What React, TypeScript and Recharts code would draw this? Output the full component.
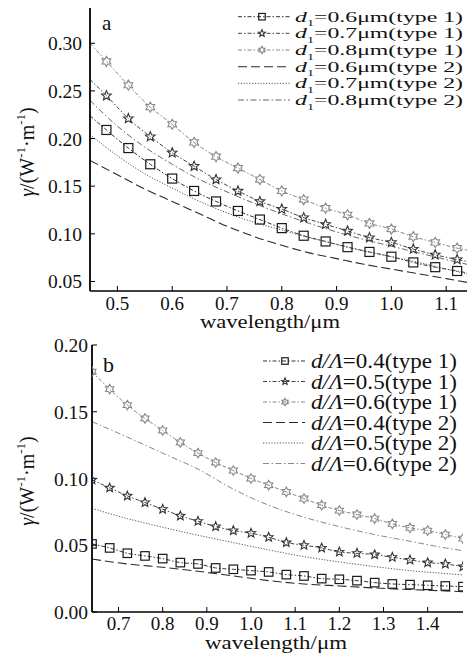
import React from 'react';
import { LineChart, Line, XAxis, YAxis } from 'recharts';

const FONT = '"Liberation Serif", "Times New Roman", serif';

// ---------- Panel a ----------
const aMarkX = [0.45, 0.48, 0.52, 0.56, 0.6, 0.64, 0.68, 0.72, 0.76, 0.8, 0.84, 0.88, 0.92, 0.96, 1.0, 1.04, 1.08, 1.12, 1.138];
const aSq = [0.224, 0.209, 0.19, 0.173, 0.158, 0.145, 0.134, 0.124, 0.115, 0.106, 0.098, 0.092, 0.086, 0.081, 0.076, 0.07, 0.065, 0.061, 0.059];
const aStar = [0.262, 0.245, 0.221, 0.202, 0.185, 0.171, 0.157, 0.145, 0.134, 0.126, 0.117, 0.11, 0.103, 0.096, 0.091, 0.084, 0.078, 0.073, 0.071];
const aHex = [0.3, 0.281, 0.256, 0.233, 0.215, 0.196, 0.181, 0.169, 0.157, 0.145, 0.136, 0.127, 0.12, 0.111, 0.105, 0.097, 0.091, 0.085, 0.083];
const aLineX = [0.45, 0.5, 0.55, 0.6, 0.65, 0.7, 0.75, 0.8, 0.85, 0.9, 0.95, 1.0, 1.05, 1.1, 1.138];
const aLongDash = [0.177, 0.162, 0.147, 0.134, 0.121, 0.108, 0.097, 0.088, 0.08, 0.074, 0.068, 0.063, 0.058, 0.053, 0.049];
const aDotted = [0.204, 0.182, 0.163, 0.148, 0.134, 0.122, 0.112, 0.104, 0.096, 0.089, 0.082, 0.076, 0.07, 0.063, 0.058];
const aDashDot = [0.24, 0.213, 0.191, 0.173, 0.157, 0.144, 0.132, 0.121, 0.111, 0.102, 0.094, 0.087, 0.08, 0.073, 0.068];
const aXTicks = [0.5, 0.6, 0.7, 0.8, 0.9, 1.0, 1.1];
const aYTicks = [0.05, 0.1, 0.15, 0.2, 0.25, 0.3];
const aLabels = ['=0.6μm(type 1)', '=0.7μm(type 1)', '=0.8μm(type 1)', '=0.6μm(type 2)', '=0.7μm(type 2)', '=0.8μm(type 2)'];

// ---------- Panel b ----------
const bMarkX = [0.64, 0.68, 0.72, 0.76, 0.8, 0.84, 0.88, 0.92, 0.96, 1.0, 1.04, 1.08, 1.12, 1.16, 1.2, 1.24, 1.28, 1.32, 1.36, 1.4, 1.44, 1.48];
const bSq = [0.051, 0.048, 0.044, 0.042, 0.04, 0.037, 0.036, 0.033, 0.032, 0.031, 0.03, 0.028, 0.027, 0.025, 0.0245, 0.0235, 0.022, 0.021, 0.0205, 0.02, 0.0195, 0.019];
const bStar = [0.099, 0.093, 0.087, 0.082, 0.077, 0.072, 0.068, 0.064, 0.061, 0.059, 0.056, 0.052, 0.05, 0.048, 0.045, 0.044, 0.043, 0.041, 0.039, 0.037, 0.036, 0.034];
const bHex = [0.18, 0.167, 0.155, 0.145, 0.136, 0.127, 0.119, 0.112, 0.106, 0.1, 0.095, 0.09, 0.085, 0.08, 0.076, 0.073, 0.07, 0.066, 0.063, 0.061, 0.058, 0.055];
const bLineX = [0.64, 0.72, 0.8, 0.88, 0.96, 1.04, 1.12, 1.2, 1.28, 1.36, 1.44, 1.48];
const bLongDash = [0.0397, 0.036, 0.0335, 0.0305, 0.027, 0.0235, 0.021, 0.0195, 0.018, 0.0168, 0.0158, 0.0152];
const bDotted = [0.0776, 0.07, 0.0635, 0.0575, 0.052, 0.0465, 0.0415, 0.0375, 0.034, 0.031, 0.0288, 0.0278];
const bDashDot = [0.1426, 0.131, 0.119, 0.107, 0.092, 0.08, 0.071, 0.064, 0.058, 0.053, 0.048, 0.046];
const bXTicks = [0.7, 0.8, 0.9, 1.0, 1.1, 1.2, 1.3, 1.4];
const bYTicks = [0, 0.05, 0.1, 0.15, 0.2];
const bLabels = ['=0.4(type 1)', '=0.5(type 1)', '=0.6(type 1)', '=0.4(type 2)', '=0.5(type 2)', '=0.6(type 2)'];

type Kind = 'square' | 'star' | 'hex' | null;
type Series = { key: string; x: number[]; y: number[]; stroke: string; dash: string; width: number; marker: Kind; mColor: string; edges: boolean };

const rows = (x: number[], y: number[]) => x.map((v, i) => ({ x: v, y: y[i] }));

const starPts = (cx: number, cy: number, R: number, r: number, n: number) => {
  const p: string[] = [];
  for (let i = 0; i < 2 * n; i++) {
    const a = (-90 + (i * 180) / n) * (Math.PI / 180);
    const rr = i % 2 === 0 ? R : r;
    p.push(`${(cx + rr * Math.cos(a)).toFixed(2)},${(cy + rr * Math.sin(a)).toFixed(2)}`);
  }
  return p.join(' ');
};

function Marker({ kind, cx, cy, color, s }: { kind: Kind; cx: number; cy: number; color: string; s: number }) {
  if (kind === 'square') {
    return <rect x={cx - s / 2} y={cy - s / 2} width={s} height={s} fill="none" stroke={color} strokeWidth={1.2} />;
  }
  if (kind === 'star') {
    return <polygon points={starPts(cx, cy, s * 0.56, s * 0.25, 5)} fill="none" stroke={color} strokeWidth={1.1} />;
  }
  if (kind === 'hex') {
    return <polygon points={starPts(cx, cy, s * 0.56, s * 0.33, 6)} fill="none" stroke={color} strokeWidth={1.1} />;
  }
  return null;
}

const aSeries: Series[] = [
  { key: 'a1', x: aMarkX, y: aSq, stroke: '#333', dash: '4 2 1.5 2', width: 1, marker: 'square', mColor: '#1a1a1a', edges: false },
  { key: 'a2', x: aMarkX, y: aStar, stroke: '#444', dash: '4 2 1.5 2', width: 1, marker: 'star', mColor: '#333', edges: false },
  { key: 'a3', x: aMarkX, y: aHex, stroke: '#888', dash: '4 2 1.5 2', width: 1, marker: 'hex', mColor: '#888', edges: false },
  { key: 'a4', x: aLineX, y: aLongDash, stroke: '#2a2a2a', dash: '9 4', width: 1.1, marker: null, mColor: '', edges: false },
  { key: 'a5', x: aLineX, y: aDotted, stroke: '#555', dash: '1.2 1.6', width: 1, marker: null, mColor: '', edges: false },
  { key: 'a6', x: aLineX, y: aDashDot, stroke: '#666', dash: '6 2.5 1.5 2.5', width: 1, marker: null, mColor: '', edges: false },
];

const bSeries: Series[] = [
  { key: 'b1', x: bMarkX, y: bSq, stroke: '#333', dash: '4 2 1.5 2', width: 1, marker: 'square', mColor: '#1a1a1a', edges: true },
  { key: 'b2', x: bMarkX, y: bStar, stroke: '#444', dash: '4 2 1.5 2', width: 1, marker: 'star', mColor: '#333', edges: true },
  { key: 'b3', x: bMarkX, y: bHex, stroke: '#888', dash: '4 2 1.5 2', width: 1, marker: 'hex', mColor: '#888', edges: true },
  { key: 'b4', x: bLineX, y: bLongDash, stroke: '#2a2a2a', dash: '9 4', width: 1.1, marker: null, mColor: '', edges: false },
  { key: 'b5', x: bLineX, y: bDotted, stroke: '#555', dash: '1.2 1.6', width: 1, marker: null, mColor: '', edges: false },
  { key: 'b6', x: bLineX, y: bDashDot, stroke: '#888', dash: '6 2.5 1.5 2.5', width: 1, marker: null, mColor: '', edges: false },
];

const makeXTick = (dy: number) => (p: any) => (
  <text x={p.x} y={p.y + dy} textAnchor="middle" fontFamily={FONT} fontSize={19} fill="#111">
    {Number(p.payload.value).toFixed(1)}
  </text>
);
const makeYTick = (dx: number) => (p: any) => (
  <text x={p.x - dx} y={p.y + 7} textAnchor="end" fontFamily={FONT} fontSize={19.5} fill="#111">
    {Number(p.payload.value).toFixed(2)}
  </text>
);

function Panel({ series, xDomain, yDomain, xTicks, yTicks, width, height, margin, yW, xH, xDy, yDx, ms }: any) {
  return (
    <LineChart width={width} height={height} margin={margin}>
      <XAxis
        xAxisId="b"
        type="number"
        dataKey="x"
        domain={xDomain}
        ticks={xTicks}
        interval={0}
        allowDataOverflow
        height={xH}
        tickSize={-5}
        tickMargin={5}
        tick={makeXTick(xDy)}
        axisLine={{ stroke: '#000', strokeWidth: 1.5 }}
        tickLine={{ stroke: '#000', strokeWidth: 1 }}
      />
      <XAxis
        xAxisId="t"
        orientation="top"
        type="number"
        dataKey="x"
        domain={xDomain}
        ticks={xTicks}
        interval={0}
        allowDataOverflow
        height={0}
        tickSize={-5}
        tick={false}
        axisLine={{ stroke: '#222', strokeWidth: 1 }}
        tickLine={{ stroke: '#222', strokeWidth: 1 }}
      />
      <YAxis
        yAxisId="l"
        type="number"
        domain={yDomain}
        ticks={yTicks}
        interval={0}
        allowDataOverflow
        width={yW}
        tickSize={-5}
        tickMargin={5}
        tick={makeYTick(yDx)}
        axisLine={{ stroke: '#000', strokeWidth: 1.8 }}
        tickLine={{ stroke: '#000', strokeWidth: 1 }}
      />
      <YAxis
        yAxisId="r"
        orientation="right"
        type="number"
        domain={yDomain}
        ticks={yTicks}
        interval={0}
        allowDataOverflow
        width={0}
        tickSize={-5}
        tick={false}
        axisLine={{ stroke: '#222', strokeWidth: 1 }}
        tickLine={{ stroke: '#222', strokeWidth: 1 }}
      />
      {series.map((s: Series) => (
        <Line
          key={s.key}
          xAxisId="b"
          yAxisId="l"
          data={rows(s.x, s.y)}
          dataKey="y"
          type="monotone"
          stroke={s.stroke}
          strokeWidth={s.width}
          strokeDasharray={s.dash}
          isAnimationActive={false}
          activeDot={false}
          dot={(p: any) => {
            const n = s.x.length;
            if (!s.marker || (!s.edges && (p.index === 0 || p.index === n - 1))) return <g key={`${s.key}-${p.index}`} />;
            return (
              <g key={`${s.key}-${p.index}`}>
                <Marker kind={s.marker} cx={p.cx} cy={p.cy} color={s.mColor} s={ms} />
              </g>
            );
          }}
        />
      ))}
    </LineChart>
  );
}

function YTitle({ x, y }: { x: number; y: number }) {
  return (
    <text x={x} y={y} transform={`rotate(-90 ${x} ${y})`} textAnchor="middle" fontFamily={FONT} fontSize={20} fill="#111" dominantBaseline="central">
      <tspan fontStyle="italic">γ</tspan>
      <tspan>/(W</tspan>
      <tspan fontSize={13} dy={-7}>-1</tspan>
      <tspan dy={7}>·m</tspan>
      <tspan fontSize={13} dy={-7}>-1</tspan>
      <tspan dy={7}>)</tspan>
    </text>
  );
}

function LegendA() {
  const centers = [16.7, 33.3, 50, 66.7, 83.3, 100];
  return (
    <g>
      {aSeries.map((s, i) => (
        <g key={s.key}>
          <line x1={238} x2={290} y1={centers[i]} y2={centers[i]} stroke={s.stroke} strokeWidth={s.width} strokeDasharray={s.dash} />
          {s.marker && <Marker kind={s.marker} cx={262} cy={centers[i]} color={s.mColor} s={6.5} />}
          <text
            x={0}
            y={0}
            transform={`translate(295 ${centers[i] + 5}) scale(1 0.75)`}
            fontFamily={FONT}
            fontSize={20}
            fill="#111"
            textLength={168}
            lengthAdjust="spacingAndGlyphs"
          >
            <tspan fontStyle="italic">d</tspan>
            <tspan fontSize={12} dy={6}>1</tspan>
            <tspan dy={-6}>{aLabels[i]}</tspan>
          </text>
        </g>
      ))}
    </g>
  );
}

function LegendB() {
  const centers = [361, 381.5, 402, 422.5, 443, 463.5];
  return (
    <g>
      {bSeries.map((s, i) => (
        <g key={s.key}>
          <line x1={263} x2={305} y1={centers[i]} y2={centers[i]} stroke={s.stroke} strokeWidth={s.width} strokeDasharray={s.dash} />
          {s.marker && <Marker kind={s.marker} cx={285} cy={centers[i]} color={s.mColor} s={6.5} />}
          <text x={311} y={centers[i] + 7} fontFamily={FONT} fontSize={20} fill="#111" textLength={146} lengthAdjust="spacingAndGlyphs">
            <tspan fontStyle="italic">d/Λ</tspan>
            <tspan>{bLabels[i]}</tspan>
          </text>
        </g>
      ))}
    </g>
  );
}

export default function App() {
  return (
    <div style={{ position: 'absolute', left: 0, top: 0, width: 470, height: 663, background: '#fff', overflow: 'hidden' }}>
      <div style={{ position: 'absolute', left: 0, top: 0 }}>
        <Panel
          series={aSeries}
          xDomain={[0.45, 1.138]}
          yDomain={[0.04, 0.337]}
          xTicks={aXTicks}
          yTicks={aYTicks}
          width={470}
          height={330}
          margin={{ top: 8, right: 3, bottom: 0, left: 0 }}
          yW={90}
          xH={39}
          xDy={19}
          yDx={8}
          ms={9}
        />
      </div>
      <div style={{ position: 'absolute', left: 0, top: 330 }}>
        <Panel
          series={bSeries}
          xDomain={[0.64, 1.48]}
          yDomain={[0, 0.2]}
          xTicks={bXTicks}
          yTicks={bYTicks}
          width={470}
          height={333}
          margin={{ top: 15, right: 7, bottom: 0, left: 0 }}
          yW={92}
          xH={51}
          xDy={18}
          yDx={4}
          ms={8.5}
        />
      </div>
      <svg width={470} height={663} style={{ position: 'absolute', left: 0, top: 0, pointerEvents: 'none' }}>
        <text x={102} y={30} fontFamily={FONT} fontSize={21} fill="#111">a</text>
        <text x={103} y={372} fontFamily={FONT} fontSize={22} fill="#111">b</text>
        <YTitle x={27} y={152} />
        <YTitle x={27} y={481} />
        <text x={270} y={328} textAnchor="middle" fontFamily={FONT} fontSize={18} fill="#111" textLength={140} lengthAdjust="spacingAndGlyphs">wavelength/μm</text>
        <text x={276} y={649} textAnchor="middle" fontFamily={FONT} fontSize={18} fill="#111" textLength={142} lengthAdjust="spacingAndGlyphs">wavelength/μm</text>
        <LegendA />
        <LegendB />
      </svg>
    </div>
  );
}
